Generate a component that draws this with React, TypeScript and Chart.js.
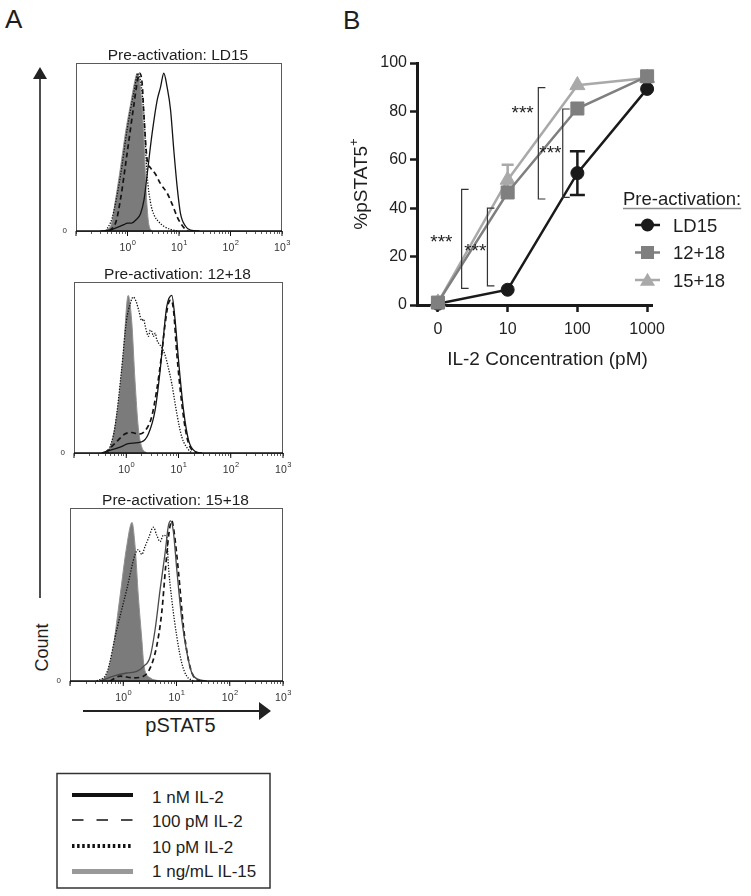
import React, { useEffect, useRef } from 'react';
import { Chart, registerables } from 'chart.js';

Chart.register(...registerables);

const FONT = "'Liberation Sans', Arial, Helvetica, sans-serif";
Chart.defaults.font.family = FONT;

// ---------------- Panel A: histogram data [pSTAT5 intensity, % of max count] ----------------
const ld15_1nM = [[0.3,0],[0.45,0.5],[0.6,2],[0.85,4],[1.0,5],[1.2,5],[1.45,7],[1.79,11],[2.1,20],[2.41,36],[3.01,62],[3.77,83],[4.37,91],[5.07,100],[5.89,91],[6.84,77],[7.94,51],[9.21,28],[10.7,11],[13.4,3],[16.7,0.5],[25,0]];
const ld15_100pM = [[0.45,0],[0.6,6],[0.73,20],[0.99,50],[1.33,80],[1.6,97],[1.73,100],[1.93,93],[2.07,75],[2.41,45],[2.8,40],[3.5,36],[4.37,30],[5.89,24],[7.36,17],[9.21,9],[10.7,5],[12.5,2],[15,0]];
const ld15_10pM = [[0.38,0],[0.5,8],[0.73,35],[0.99,65],[1.33,88],[1.6,100],[1.85,92],[2.07,75],[2.41,35],[2.8,18],[3.3,10],[4.0,6],[5.07,3],[6.84,1],[9.21,0]];
const ld15_IL15 = [[0.32,0],[0.47,3],[0.58,19],[0.73,40],[0.91,62],[1.14,80],[1.43,97],[1.54,100],[1.79,90],[2.07,60],[2.3,25],[2.6,4],[3.01,0]];

const p1218_1nM = [[0.335,0],[0.52,2],[0.81,4],[1.09,6],[1.97,7],[2.65,12],[3.56,27],[4.44,52],[5.15,74],[5.97,93],[7.44,100],[8.63,84],[10,59],[12.5,27],[15.6,8],[20.9,1],[28.1,0]];
const p1218_100pM = [[0.39,0],[0.605,6],[0.94,12],[1.27,13],[1.7,12],[2.29,14],[3.07,23],[3.83,40],[4.78,63],[5.55,82],[6.42,95],[7.23,97],[8.01,91],[9.29,63],[11.6,31],[14.5,10],[18,2],[24.3,0]];
const p1218_10pM = [[0.45,0],[0.605,16],[0.81,52],[1.01,84],[1.2,95],[1.36,99],[1.55,96],[1.75,90],[1.97,84],[2.15,85],[2.29,81],[2.5,76],[2.65,74],[2.9,78],[3.1,77],[3.31,74],[3.6,76],[3.83,72],[4.3,69],[4.78,67],[5.55,62],[6.4,54],[7.44,44],[9.29,25],[11.6,10],[15.6,2],[18,0]];
const p1218_IL15 = [[0.39,0],[0.52,6],[0.7,31],[0.875,63],[1.09,100],[1.27,84],[1.47,46],[1.7,16],[1.97,4],[2.46,0]];

const p1518_1nM = [[0.37,0],[0.652,3],[1.16,5],[1.79,6],[2.39,9],[3.19,15],[3.96,32],[4.92,57],[6.11,80],[7.05,97],[7.81,100],[8.75,93],[10.1,70],[12.6,38],[15.6,18],[19.4,5],[25.8,1],[37.1,0]];
const p1518_100pM = [[0.565,0],[0.871,3],[1.55,2],[2.39,3],[3.19,8],[4.26,22],[5.29,43],[6.28,72],[7.26,93],[8.15,100],[9.02,93],[10.9,68],[13.5,34],[16.8,13],[20.8,3],[27.8,0]];
const p1518_10pM = [[0.317,0],[0.489,5],[0.754,32],[1.16,57],[1.67,79],[1.92,82],[2.23,79],[2.57,84],[2.97,89],[3.68,96],[4.26,91],[4.92,87],[5.68,91],[6.56,90],[7.05,72],[8.15,51],[10.1,28],[12.6,11],[15.6,3],[20.8,0]];
const p1518_IL15 = [[0.366,0],[0.5,5],[0.652,22],[0.871,53],[1.16,84],[1.46,99],[1.67,84],[1.92,53],[2.23,26],[2.46,9],[3.19,2],[4.92,0]];

const histDecades = [0.1, 1, 10, 100, 1000];
const histDecadeExponents = ['-1', '0', '1', '2', '3'];
const histMultipliers = [1, 2, 3, 4, 5, 6, 7, 8, 9];
const histTickValues = [
  ...histDecades.slice(0, 4).flatMap((d) => histMultipliers.map((m) => +(d * m).toPrecision(6))),
  1000,
];
const histTitles = ['Pre-activation: LD15', 'Pre-activation: 12+18', 'Pre-activation: 15+18'];
const histLegendLabels = ['1 nM IL-2', '100 pM IL-2', '10 pM IL-2', '1 ng/mL IL-15'];

// ---------------- Panel B: dose response ----------------
const concLabels = ['0', '10', '100', '1000'];
const concPositions = [0, 1, 2, 3];
const seriesNames = ['LD15', '12+18', '15+18'];
const ld15Pct = [0.5, 6.3, 54.5, 89.3];
const il12il18Pct = [1.0, 46.5, 81.2, 94.5];
const il15il18Pct = [1.0, 51.7, 90.8, 93.8];
const ld15Sem = [0, 0, 9, 0];
const il12il18Sem = [0, 0, 0, 0];
const il15il18Sem = [0, 6.3, 0, 0];
const pctTicks = [0, 20, 40, 60, 80, 100];
const sigBracketAt = [0.34, 0.71, 1.44, 1.79];
const sigBracketLow = [6.9, 7.9, 43.8, 44.5];
const sigBracketHigh = [47.8, 40.0, 89.8, 81.0];
const sigStarAt = [0.05, 0.535, 1.215, 1.612];
const sigStarPct = [28.2, 24.1, 81.3, 64.7];
const sigLabel = '***';

// ---------------- Histogram chart ----------------
const PAD_L = 30, PAD_T = 30, PAD_R = 18, PAD_B = 28;

const histFramePlugin = {
  id: 'histFrame',
  afterDraw(chart: any, _args: any, opts: any) {
    const { ctx, chartArea: a, scales } = chart;
    const xs = scales.x;
    ctx.save();
    ctx.strokeStyle = '#5a5a5a';
    ctx.lineWidth = 1;
    ctx.strokeRect(a.left + 0.5, a.top + 0.5, a.right - a.left - 1, a.bottom - a.top);
    ctx.strokeStyle = '#111';
    ctx.lineWidth = 1.4;
    ctx.beginPath();
    ctx.moveTo(a.left, a.bottom);
    ctx.lineTo(a.right, a.bottom);
    ctx.stroke();
    // decade ticks (longer) + labels 10^n
    ctx.lineWidth = 1;
    ctx.fillStyle = '#333';
    ctx.textBaseline = 'alphabetic';
    histDecades.forEach((d, i) => {
      const px = xs.getPixelForValue(d);
      ctx.beginPath();
      ctx.moveTo(px, a.bottom);
      ctx.lineTo(px, a.bottom + 5);
      ctx.stroke();
      if (i === 0) return;
      ctx.font = `10.5px ${FONT}`;
      const w1 = ctx.measureText('10').width;
      ctx.font = `7.5px ${FONT}`;
      const w2 = ctx.measureText(histDecadeExponents[i]).width;
      const start = px - (w1 + w2) / 2;
      ctx.font = `10.5px ${FONT}`;
      ctx.textAlign = 'left';
      ctx.fillText('10', start, a.bottom + 19.5);
      ctx.font = `7.5px ${FONT}`;
      ctx.fillText(histDecadeExponents[i], start + w1 + 0.5, a.bottom + 14);
    });
    // title
    ctx.fillStyle = '#1e1e1e';
    ctx.font = `15.5px ${FONT}`;
    ctx.textAlign = 'center';
    ctx.fillText(opts.title, (a.left + a.right) / 2 - 1, a.top - 3);
    ctx.restore();
  },
};

type HistProps = {
  left: number; top: number; boxW: number; boxH: number; yMax: number; title: string; solidColor: string;
  solid: number[][]; dashed: number[][]; dotted: number[][]; filled: number[][];
};

function Histogram(p: HistProps) {
  const ref = useRef<HTMLCanvasElement>(null);
  const w = p.boxW + PAD_L + PAD_R;
  const h = p.boxH + PAD_T + PAD_B;
  useEffect(() => {
    const toXY = (arr: number[][]) => arr.map(([x, y]) => ({ x, y }));
    const line = { pointRadius: 0, cubicInterpolationMode: 'monotone', fill: false };
    const chart = new Chart(ref.current as HTMLCanvasElement, {
      type: 'line',
      data: {
        datasets: [
          { ...line, data: toXY(p.solid), borderColor: p.solidColor, borderWidth: 1.3 },
          { ...line, data: toXY(p.dashed), borderColor: '#141414', borderWidth: 1.7, borderDash: [5, 3.5] },
          { ...line, data: toXY(p.dotted), borderColor: '#141414', borderWidth: 1.3, borderDash: [1.3, 1.5] },
          { ...line, data: toXY(p.filled), borderColor: '#8f8f8f', backgroundColor: '#7b7b7b', borderWidth: 1, fill: 'origin' },
        ] as any,
      },
      options: {
        animation: false,
        responsive: false,
        maintainAspectRatio: false,
        events: [],
        layout: { padding: { left: 0, top: PAD_T, right: PAD_R, bottom: 0 } },
        plugins: {
          legend: { display: false },
          tooltip: { enabled: false },
          title: { display: false },
          histFrame: { title: p.title },
        } as any,
        scales: {
          x: {
            type: 'logarithmic',
            min: 0.1,
            max: 1000,
            afterBuildTicks: (s: any) => { s.ticks = histTickValues.map((v) => ({ value: v })); },
            afterFit: (s: any) => { s.height = PAD_B; },
            grid: { drawOnChartArea: false, drawTicks: true, tickLength: 3, color: '#333', lineWidth: 0.8 },
            border: { display: false },
            ticks: { autoSkip: false, maxRotation: 0, minRotation: 0, callback: () => '' },
          },
          y: {
            min: 0,
            max: p.yMax,
            afterBuildTicks: (s: any) => { s.ticks = [{ value: 0 }]; },
            afterFit: (s: any) => { s.width = PAD_L; },
            grid: { display: false, drawTicks: false },
            border: { display: false },
            ticks: { padding: 9, font: { size: 8 }, color: '#333' },
          },
        } as any,
      },
      plugins: [histFramePlugin],
    } as any);
    return () => chart.destroy();
  }, []);
  return (
    <canvas
      ref={ref}
      width={w}
      height={h}
      style={{ position: 'absolute', left: p.left - PAD_L, top: p.top - PAD_T, width: w, height: h }}
    />
  );
}

// ---------------- Dose response chart ----------------
function drawMarker(ctx: CanvasRenderingContext2D, style: string, x: number, y: number, r: number) {
  ctx.beginPath();
  if (style === 'circle') {
    ctx.arc(x, y, r, 0, Math.PI * 2);
  } else if (style === 'rect') {
    const s = r * Math.SQRT1_2;
    ctx.rect(x - s, y - s, 2 * s, 2 * s);
  } else {
    ctx.moveTo(x, y - r);
    ctx.lineTo(x + r * 0.866, y + r * 0.5);
    ctx.lineTo(x - r * 0.866, y + r * 0.5);
    ctx.closePath();
  }
  ctx.fill();
}

const panelBPlugin = {
  id: 'panelB',
  beforeDatasetsDraw(chart: any) {
    const { ctx, scales: { x, y } } = chart;
    const errs = [ld15Sem, il12il18Sem, il15il18Sem];
    const vals = [ld15Pct, il12il18Pct, il15il18Pct];
    ctx.save();
    errs.forEach((err, s) => {
      const ds = chart.data.datasets[s];
      ctx.strokeStyle = ds.borderColor;
      ctx.lineWidth = 2.5;
      err.forEach((e, i) => {
        if (!e) return;
        const px = x.getPixelForValue(concPositions[i]);
        const top = y.getPixelForValue(vals[s][i] + e);
        const bot = y.getPixelForValue(vals[s][i] - e);
        const hw = s === 0 ? 7.5 : 6;
        ctx.beginPath();
        ctx.moveTo(px, top); ctx.lineTo(px, bot);
        ctx.moveTo(px - hw, top); ctx.lineTo(px + hw, top);
        ctx.moveTo(px - hw, bot); ctx.lineTo(px + hw, bot);
        ctx.stroke();
      });
    });
    ctx.restore();
  },
  afterDatasetsDraw(chart: any) {
    const { ctx, scales: { x, y } } = chart;
    ctx.save();
    ctx.strokeStyle = '#333';
    ctx.lineWidth = 1.2;
    sigBracketAt.forEach((bx, i) => {
      const px = x.getPixelForValue(bx);
      const t = y.getPixelForValue(sigBracketHigh[i]);
      const b = y.getPixelForValue(sigBracketLow[i]);
      ctx.beginPath();
      ctx.moveTo(px + 7, t); ctx.lineTo(px, t); ctx.lineTo(px, b); ctx.lineTo(px + 7, b);
      ctx.stroke();
    });
    ctx.fillStyle = '#222';
    ctx.font = `19px ${FONT}`;
    ctx.textAlign = 'center';
    ctx.textBaseline = 'alphabetic';
    sigStarAt.forEach((sx, i) => {
      ctx.fillText(sigLabel, x.getPixelForValue(sx), y.getPixelForValue(sigStarPct[i]) + 10.8);
    });
    ctx.restore();
  },
  afterDraw(chart: any) {
    const { ctx, scales: { x, y } } = chart;
    ctx.save();
    ctx.fillStyle = '#1e1e1e';
    // x title
    ctx.font = `19px ${FONT}`;
    ctx.textAlign = 'center';
    ctx.textBaseline = 'alphabetic';
    const cx = (x.getPixelForValue(concPositions[0]) + x.getPixelForValue(concPositions[3])) / 2 + 5;
    ctx.fillText('IL-2 Concentration (pM)', cx, 365);
    // y title with superscript
    const cy = (y.top + y.bottom) / 2;
    ctx.translate(27, cy);
    ctx.rotate(-Math.PI / 2);
    ctx.textAlign = 'left';
    ctx.font = `19px ${FONT}`;
    const wm = ctx.measureText('%pSTAT5').width;
    ctx.font = `13px ${FONT}`;
    const ws = ctx.measureText('+').width;
    const start = -(wm + ws) / 2;
    ctx.font = `19px ${FONT}`;
    ctx.fillText('%pSTAT5', start, 0);
    ctx.font = `13px ${FONT}`;
    ctx.fillText('+', start + wm, -9);
    ctx.setTransform(1, 0, 0, 1, 0, 0);
    // legend
    ctx.textAlign = 'left';
    ctx.font = `18.5px ${FONT}`;
    ctx.fillStyle = '#1e1e1e';
    const lx = 283;
    ctx.fillText('Pre-activation:', lx, 205);
    const tw = ctx.measureText('Pre-activation:').width;
    ctx.strokeStyle = '#8a8a8a';
    ctx.lineWidth = 1.5;
    ctx.beginPath();
    ctx.moveTo(lx, 208.5);
    ctx.lineTo(lx + tw, 208.5);
    ctx.stroke();
    const rowY = [225, 252.5, 280];
    const rowBase = [231.7, 259, 286.7];
    chart.data.datasets.forEach((ds: any, i: number) => {
      ctx.strokeStyle = ds.borderColor;
      ctx.fillStyle = ds.backgroundColor;
      ctx.lineWidth = 2.5;
      ctx.beginPath();
      ctx.moveTo(295, rowY[i]);
      ctx.lineTo(320, rowY[i]);
      ctx.stroke();
      drawMarker(ctx, ds.pointStyle, 307.5, rowY[i] + (ds.pointStyle === 'triangle' ? 1.5 : 0), ds.pointRadius);
      ctx.fillStyle = '#1e1e1e';
      ctx.fillText(seriesNames[i], 333, rowBase[i]);
    });
    ctx.restore();
  },
};

function DoseResponse() {
  const ref = useRef<HTMLCanvasElement>(null);
  useEffect(() => {
    const pts = (vals: number[]) => concPositions.map((c, i) => ({ x: c, y: vals[i] }));
    const base = { borderWidth: 2.5, tension: 0, clip: false, pointBorderWidth: 1 };
    const chart = new Chart(ref.current as HTMLCanvasElement, {
      type: 'line',
      data: {
        datasets: [
          { ...base, label: seriesNames[0], data: pts(ld15Pct), borderColor: '#1a1a1a', backgroundColor: '#1a1a1a', pointStyle: 'circle', pointRadius: 6.5, order: 3 },
          { ...base, label: seriesNames[1], data: pts(il12il18Pct), borderColor: '#7f7f7f', backgroundColor: '#7f7f7f', pointStyle: 'rect', pointRadius: 9.2, order: 1 },
          { ...base, label: seriesNames[2], data: pts(il15il18Pct), borderColor: '#a9a9a9', backgroundColor: '#a9a9a9', pointStyle: 'triangle', pointRadius: 8.7, order: 2 },
        ] as any,
      },
      options: {
        animation: false,
        responsive: false,
        maintainAspectRatio: false,
        events: [],
        layout: { padding: { left: 0, top: 63, right: 99, bottom: 0 } },
        plugins: { legend: { display: false }, tooltip: { enabled: false }, title: { display: false } },
        scales: {
          x: {
            type: 'linear',
            min: -0.3,
            max: 3.07,
            afterBuildTicks: (s: any) => { s.ticks = concPositions.map((v) => ({ value: v })); },
            afterFit: (s: any) => { s.height = 75; },
            grid: { drawOnChartArea: false, tickLength: 7, tickWidth: 2.5, color: '#1a1a1a' },
            border: { display: true, width: 3, color: '#1a1a1a' },
            ticks: { padding: 8, font: { size: 16 }, color: '#222', callback: (v: number) => concLabels[concPositions.indexOf(v)] ?? '' },
          },
          y: {
            min: 0,
            max: 100,
            afterBuildTicks: (s: any) => { s.ticks = pctTicks.map((v) => ({ value: v })); },
            afterFit: (s: any) => { s.width = 77; },
            grid: { drawOnChartArea: false, tickLength: 7, tickWidth: 2.5, color: '#1a1a1a' },
            border: { display: true, width: 3, color: '#1a1a1a' },
            ticks: { padding: 3, font: { size: 16 }, color: '#222' },
          },
        } as any,
      },
      plugins: [panelBPlugin],
    } as any);
    return () => chart.destroy();
  }, []);
  return (
    <canvas ref={ref} width={411} height={380} style={{ position: 'absolute', left: 340, top: 0, width: 411, height: 380 }} />
  );
}

// ---------------- Page ----------------
export default function App() {
  const legendRowY = [795, 820, 846, 871.5];
  const legendBase = [802.7, 826.7, 852.7, 877.3];
  return (
    <div style={{ position: 'absolute', left: 0, top: 0, width: 751, height: 896, background: '#fff', overflow: 'hidden', fontFamily: FONT }}>
      <svg width={751} height={896} style={{ position: 'absolute', left: 0, top: 0 }}>
        <text x={5} y={28} fontSize={26} fill="#1e1e1e" fontFamily={FONT}>A</text>
        <text x={343} y={28.5} fontSize={26} fill="#1e1e1e" fontFamily={FONT}>B</text>
        {/* Count arrow */}
        <line x1={40} y1={76} x2={40} y2={598} stroke="#222" strokeWidth={1.6} />
        <polygon points="40,67 33,79 47,79" fill="#222" />
        <text transform="translate(48,647.5) rotate(-90)" textAnchor="middle" fontSize={18} fill="#1e1e1e" fontFamily={FONT}>Count</text>
        {/* pSTAT5 arrow */}
        <line x1={83} y1={711} x2={262} y2={711} stroke="#222" strokeWidth={2} />
        <polygon points="271,711 259,702 259,720" fill="#222" />
        <text x={180.5} y={732} textAnchor="middle" fontSize={20} fill="#1e1e1e" fontFamily={FONT}>pSTAT5</text>
        {/* histogram legend */}
        <rect x={57} y={773.5} width={213} height={114.5} fill="none" stroke="#333" strokeWidth={1.5} />
        <line x1={72} y1={legendRowY[0]} x2={133} y2={legendRowY[0]} stroke="#111" strokeWidth={4} />
        <line x1={72} y1={legendRowY[1]} x2={133} y2={legendRowY[1]} stroke="#111" strokeWidth={1.5} strokeDasharray="11.5 13" />
        <line x1={72} y1={legendRowY[2]} x2={133} y2={legendRowY[2]} stroke="#111" strokeWidth={4} strokeDasharray="2.5 2.6" />
        <line x1={72} y1={legendRowY[3]} x2={133} y2={legendRowY[3]} stroke="#999" strokeWidth={5} />
        {histLegendLabels.map((t, i) => (
          <text key={t} x={152} y={legendBase[i]} fontSize={17} fill="#1e1e1e" fontFamily={FONT}>{t}</text>
        ))}
      </svg>
      <Histogram left={76} top={63} boxW={206} boxH={168} yMax={106.5} title={histTitles[0]} solidColor="#141414"
        solid={ld15_1nM} dashed={ld15_100pM} dotted={ld15_10pM} filled={ld15_IL15} />
      <Histogram left={74} top={282} boxW={209} boxH={171} yMax={108.5} title={histTitles[1]} solidColor="#141414"
        solid={p1218_1nM} dashed={p1218_100pM} dotted={p1218_10pM} filled={p1218_IL15} />
      <Histogram left={70} top={508} boxW={213} boxH={173} yMax={108} title={histTitles[2]} solidColor="#4a4a4a"
        solid={p1518_1nM} dashed={p1518_100pM} dotted={p1518_10pM} filled={p1518_IL15} />
      <DoseResponse />
    </div>
  );
}
